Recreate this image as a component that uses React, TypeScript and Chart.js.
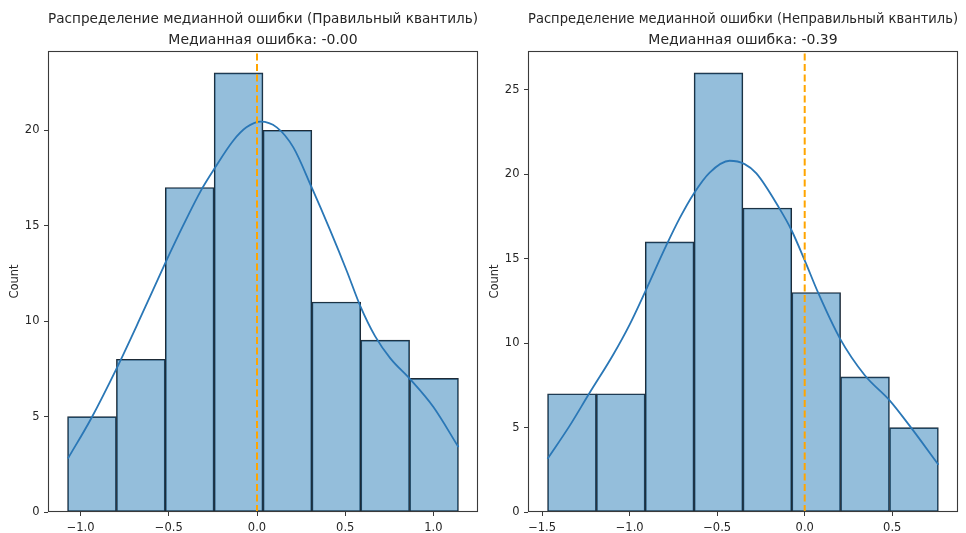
import React, { useEffect, useRef } from "react";
import { Chart, registerables } from "chart.js";

Chart.register(...registerables);

// ---------- data ----------
const LEFT_TITLE = [
  "Распределение медианной ошибки (Правильный квантиль)",
  "Медианная ошибка: -0.00",
];
const RIGHT_TITLE = [
  "Распределение медианной ошибки (Неправильный квантиль)",
  "Медианная ошибка: -0.39",
];
const Y_LABEL = "Count";

const LEFT_BIN_EDGES = [-1.074, -0.797, -0.52, -0.243, 0.034, 0.311, 0.588, 0.865, 1.142];
const LEFT_COUNTS = [5, 8, 17, 23, 20, 11, 9, 7];
const LEFT_KDE_X = [
  -1.072, -0.94, -0.797, -0.665, -0.517, -0.419, -0.314, -0.244, -0.135, -0.06, 0.02,
  0.112, 0.206, 0.31, 0.415, 0.51, 0.585, 0.67, 0.756, 0.869, 1.0, 1.142,
];
const LEFT_KDE_Y = [
  2.8, 4.9, 7.5, 10.1, 13.1, 15.0, 16.9, 17.95, 19.45, 20.15, 20.45,
  20.15, 19.1, 17.0, 14.75, 12.6, 10.8, 9.2, 8.05, 6.95, 5.5, 3.4,
];
const LEFT_VLINE_X = 0.0;
const LEFT_X_TICKS = [-1.0, -0.5, 0.0, 0.5, 1.0];
const LEFT_Y_TICKS = [0, 5, 10, 15, 20];

const RIGHT_BIN_EDGES = [-1.469, -1.19, -0.911, -0.632, -0.353, -0.074, 0.205, 0.484, 0.764];
const RIGHT_COUNTS = [7, 7, 16, 26, 18, 13, 8, 5];
const RIGHT_KDE_X = [
  -1.469, -1.343, -1.232, -1.095, -1.0, -0.909, -0.79, -0.714, -0.634, -0.543, -0.429,
  -0.343, -0.276, -0.143, -0.076, 0.0, 0.076, 0.2, 0.343, 0.486, 0.6, 0.764,
];
const RIGHT_KDE_Y = [
  3.15, 5.1, 7.0, 9.3, 11.1, 13.1, 15.8, 17.4, 18.85, 20.1, 20.8,
  20.6, 20.05, 17.95, 16.7, 14.9, 13.0, 10.3, 8.1, 6.6, 5.1, 2.8,
];
const RIGHT_VLINE_X = 0.0;
const RIGHT_X_TICKS = [-1.5, -1.0, -0.5, 0.0, 0.5];
const RIGHT_Y_TICKS = [0, 5, 10, 15, 20, 25];

// ---------- styles ----------
const FONT = "DejaVu Sans";
const TEXT = "#262626";
const AXIS = "#3a3a3a";

type PanelCfg = {
  title: string[];
  edges: number[];
  counts: number[];
  kdeX: number[];
  kdeY: number[];
  vline: number;
  xTicks: number[];
  yTicks: number[];
  yAxisWidth: number;
  padRight: number;
  yTitlePad: number;
};

const fmtX = (v: number) => v.toFixed(1).replace("-", "\u2212");

const framePlugin = {
  id: "frame",
  afterDraw(chart: any) {
    const { ctx, chartArea: a } = chart;
    ctx.save();
    ctx.strokeStyle = AXIS;
    ctx.lineWidth = 1.1;
    const l = Math.round(a.left) + 0.5;
    const t = Math.round(a.top) + 0.5;
    const r = Math.round(a.right) - 0.5;
    const b = Math.round(a.bottom) - 0.5;
    ctx.strokeRect(l, t, r - l, b - t);
    ctx.restore();
  },
};

function Panel({ cfg }: { cfg: PanelCfg }) {
  const ref = useRef<HTMLCanvasElement>(null);
  useEffect(() => {
    if (!ref.current) return;
    const e = cfg.edges;
    const bars = cfg.counts.map((c, i) => ({ x: (e[i] + e[i + 1]) / 2, y: c }));
    const kde = cfg.kdeX.map((x, i) => ({ x, y: cfg.kdeY[i] }));
    const span = e[e.length - 1] - e[0];
    const xMin = e[0] - 0.05 * span;
    const xMax = e[e.length - 1] + 0.05 * span;
    const yMax = Math.max(...cfg.counts, ...cfg.kdeY) * 1.05;
    const tickFont = { family: FONT, size: 11.5 };
    const chart = new Chart(ref.current, {
      type: "bar",
      data: {
        datasets: [
          {
            type: "line",
            data: [
              { x: cfg.vline, y: 0 },
              { x: cfg.vline, y: yMax },
            ],
            borderColor: "#ffa500",
            borderWidth: 2,
            borderDash: [7, 3.5],
            pointRadius: 0,
            order: 0,
          } as any,
          {
            type: "line",
            data: kde,
            borderColor: "#2a77b6",
            borderWidth: 1.8,
            pointRadius: 0,
            cubicInterpolationMode: "monotone",
            order: 1,
          } as any,
          {
            type: "bar",
            data: bars,
            backgroundColor: "rgba(31,119,180,0.48)",
            borderColor: "#1d2a36",
            borderWidth: 1,
            borderSkipped: false,
            barPercentage: 1,
            categoryPercentage: 1,
            grouped: false,
            order: 2,
          } as any,
        ],
      },
      options: {
        animation: false,
        responsive: false,
        events: [],
        layout: { padding: { left: 0, right: cfg.padRight, top: 0, bottom: 0 } },
        plugins: {
          legend: { display: false },
          tooltip: { enabled: false },
          title: {
            display: true,
            text: cfg.title,
            fullSize: false,
            color: TEXT,
            font: { family: FONT, size: 14, weight: "normal", lineHeight: 1.5 },
            padding: { top: 9, bottom: 0 },
          },
        },
        scales: {
          x: {
            type: "linear",
            min: xMin,
            max: xMax,
            offset: false,
            grid: {
              display: true,
              drawOnChartArea: false,
              drawTicks: true,
              tickLength: 4,
              color: AXIS,
              offset: false,
            },
            border: { display: false },
            ticks: {
              font: tickFont,
              color: TEXT,
              padding: 5.5,
              maxRotation: 0,
              autoSkip: false,
              callback: (v: any) => fmtX(Number(v)),
            },
            afterBuildTicks: (s: any) => {
              s.ticks = cfg.xTicks.map((v) => ({ value: v }));
            },
            afterFit: (s: any) => {
              s.height = 21;
            },
          },
          y: {
            type: "linear",
            min: 0,
            max: yMax,
            grid: {
              display: true,
              drawOnChartArea: false,
              drawTicks: true,
              tickLength: 4,
              color: AXIS,
            },
            border: { display: false },
            ticks: {
              font: tickFont,
              color: TEXT,
              padding: 4.5,
              autoSkip: false,
              callback: (v: any) => String(v),
            },
            afterBuildTicks: (s: any) => {
              s.ticks = cfg.yTicks.map((v) => ({ value: v }));
            },
            afterFit: (s: any) => {
              s.width = cfg.yAxisWidth;
            },
            title: {
              display: true,
              text: Y_LABEL,
              color: TEXT,
              font: { family: FONT, size: 11.5 },
              padding: { top: cfg.yTitlePad, bottom: 0 },
            },
          },
        },
      } as any,
      plugins: [framePlugin],
    });
    return () => chart.destroy();
  }, [cfg]);
  return <canvas ref={ref} width={483} height={533} style={{ display: "block" }} />;
}

const LEFT_CFG: PanelCfg = {
  title: LEFT_TITLE,
  edges: LEFT_BIN_EDGES,
  counts: LEFT_COUNTS,
  kdeX: LEFT_KDE_X,
  kdeY: LEFT_KDE_Y,
  vline: LEFT_VLINE_X,
  xTicks: LEFT_X_TICKS,
  yTicks: LEFT_Y_TICKS,
  yAxisWidth: 48,
  padRight: 5,
  yTitlePad: 8,
};

const RIGHT_CFG: PanelCfg = {
  title: RIGHT_TITLE,
  edges: RIGHT_BIN_EDGES,
  counts: RIGHT_COUNTS,
  kdeX: RIGHT_KDE_X,
  kdeY: RIGHT_KDE_Y,
  vline: RIGHT_VLINE_X,
  xTicks: RIGHT_X_TICKS,
  yTicks: RIGHT_Y_TICKS,
  yAxisWidth: 45,
  padRight: 8,
  yTitlePad: 5,
};

export default function App() {
  return (
    <div
      style={{
        position: "absolute",
        left: 0,
        top: 0,
        width: 966,
        height: 533,
        background: "#fff",
        display: "flex",
        overflow: "hidden",
      }}
    >
      <Panel cfg={LEFT_CFG} />
      <Panel cfg={RIGHT_CFG} />
    </div>
  );
}
